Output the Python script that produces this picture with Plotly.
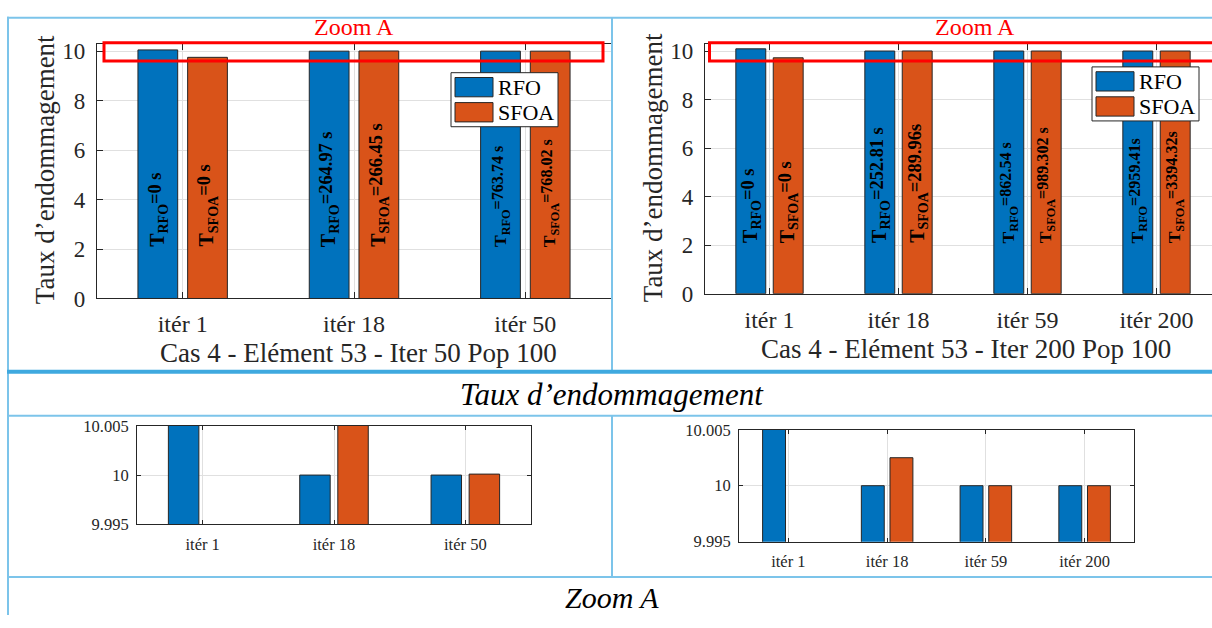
import plotly.graph_objects as go

# ---------------- data ----------------
iter_labels_50 = ['itér 1', 'itér 18', 'itér 50']
rfo_50 = [10.05, 10.0, 10.0]
sfoa_50 = [9.75, 10.007, 10.0001]
t_rfo_50 = ['0 s', '264.97 s', '763.74 s']
t_sfoa_50 = ['0 s', '266.45 s', '768.02 s']

iter_labels_200 = ['itér 1', 'itér 18', 'itér 59', 'itér 200']
rfo_200 = [10.09, 10.0, 10.0, 10.0]
sfoa_200 = [9.72, 10.0025, 10.0, 10.0]
t_rfo_200 = ['0 s', '252.81 s', '862.54 s', '2959.41s']
t_sfoa_200 = ['0 s', '289.96s', '989.302 s', '3394.32s']

series_names = ['RFO', 'SFOA']
title_50 = 'Cas 4 - Elément 53 - Iter 50 Pop 100'
title_200 = 'Cas 4 - Elément 53 - Iter 200 Pop 100'
y_title = 'Taux d’endommagement'
zoom_name = 'Zoom A'
main_yticks = [0, 2, 4, 6, 8, 10]
zoom_yticks = [9.995, 10, 10.005]
zoom_yticktext = ['9.995', '10', '10.005']

# ---------------- style ----------------
W, H = 1212, 628
BLUE = '#0072BD'
ORANGE = '#D95319'
AX = '#262626'
GRID = '#E0E0E0'
FRAME = '#7CC4EA'
FRAME_DARK = '#3FA9DF'
RED = '#FF0000'
SERIF = 'Liberation Serif'


def fx(px):
    return px / W


def fy(py):
    return 1 - py / H


fig = go.Figure()

# panel geometry in pixels: x0, x1, top, bottom
panels = {
    '': dict(cats=iter_labels_50, rfo=rfo_50, sfoa=sfoa_50, box=(97, 611, 36, 300),
             xr=[-0.5, 2.5], main=True),
    '2': dict(cats=iter_labels_200, rfo=rfo_200, sfoa=sfoa_200, box=(705, 1212, 36, 295),
              xr=[-0.5, -0.5 + (1212 - 705) / 129.0], main=True),
    '3': dict(cats=iter_labels_50, rfo=rfo_50, sfoa=sfoa_50, box=(137, 531, 432, 534),
              xr=[-0.5, 2.5], main=False),
    '4': dict(cats=iter_labels_200, rfo=rfo_200, sfoa=sfoa_200, box=(739, 1134, 436, 552),
              xr=[-0.5, 3.5], main=False),
}

for key, p in panels.items():
    for name, vals, col in zip(series_names, (p['rfo'], p['sfoa']), (BLUE, ORANGE)):
        fig.add_trace(go.Bar(
            x=p['cats'], y=vals, name=name,
            marker=dict(color=col, line=dict(color=AX, width=1)),
            xaxis='x' + key, yaxis='y' + key, showlegend=False,
        ))
    x0, x1, top, bot = p['box']
    main = p['main']
    xa = dict(
        domain=[fx(x0), fx(x1)], anchor='y' + key, type='category',
        categoryorder='array', categoryarray=p['cats'], range=p['xr'],
        ticks='inside', ticklen=6 if main else 4, tickcolor=AX,
        showline=True, linecolor=AX, linewidth=1.3 if main else 1,
        mirror='ticks', showgrid=True, gridcolor=GRID, gridwidth=1,
        tickfont=dict(family=SERIF, size=24 if main else 16.5, color=AX),
        ticklabelstandoff=4 if main else 5, zeroline=False, fixedrange=True,
    )
    ya = dict(
        domain=[fy(bot), fy(top)], anchor='x' + key,
        ticks='inside', ticklen=6 if main else 4, tickcolor=AX,
        showline=True, linecolor=AX, linewidth=1.3 if main else 1,
        mirror=False if main else 'ticks', showgrid=True, gridcolor=GRID, gridwidth=1,
        tickfont=dict(family=SERIF, size=23 if main else 16.5, color=AX),
        ticklabelstandoff=6 if main else 4, zeroline=False, fixedrange=True,
    )
    if main:
        ya.update(range=[0, 10.3], tickvals=main_yticks)
    else:
        ya.update(range=[9.995, 10.005], tickvals=zoom_yticks, ticktext=zoom_yticktext)
    fig.layout['xaxis' + key] = xa
    fig.layout['yaxis' + key] = ya

annotations = []
shapes = []

# time labels written vertically inside the main bars
label_sizes = {'': [20, 20, 17.5], '2': [20, 20, 17.5, 17.5]}
times = {'': (t_rfo_50, t_sfoa_50), '2': (t_rfo_200, t_sfoa_200)}
for key in ('', '2'):
    for j, (name, tlist) in enumerate(zip(series_names, times[key])):
        off = -0.145 if j == 0 else 0.145
        for i, t in enumerate(tlist):
            s = label_sizes[key][i]
            txt = (f"T<sub>{name}</sub>"
                   f"<span style='font-size:{s * 0.92:.1f}px;baseline-shift:3px'>={t}</span>")
            annotations.append(dict(
                x=i + off, y=2.0, xref='x' + key, yref='y' + key, text=txt,
                textangle=-90, xanchor='center', yanchor='bottom', showarrow=False,
                font=dict(family=SERIF, size=s, color='black', weight='bold'),
            ))

# axis titles of the main charts
for cx, cy, txt in ((358, 357, title_50), (966, 352, title_200)):
    annotations.append(dict(x=fx(cx), y=fy(cy), xref='paper', yref='paper', text=txt,
                            showarrow=False, xanchor='center', yanchor='middle',
                            font=dict(family=SERIF, size=27, color=AX)))
for cx, cy in ((45, 167), (653, 165)):
    annotations.append(dict(x=fx(cx), y=fy(cy), xref='paper', yref='paper', text=y_title,
                            textangle=-90, showarrow=False, xanchor='center', yanchor='middle',
                            font=dict(family=SERIF, size=27, color=AX)))

# zoom window markers
for (rx0, rx1), lx in (((104, 603), 354), ((709.5, 1216), 975)):
    shapes.append(dict(type='rect', xref='paper', yref='paper', x0=fx(rx0), x1=fx(rx1),
                       y0=fy(54), y1=fy(35), line=dict(color=RED, width=3), layer='above'))
    annotations.append(dict(x=fx(lx), y=fy(19), xref='paper', yref='paper', text=zoom_name,
                            showarrow=False, xanchor='center', yanchor='middle',
                            font=dict(family=SERIF, size=24, color=RED)))

# legends
for bx0, by0, bx1, by1, rows in ((451, 66, 558, 122, ((71, 91), (97, 117))),
                                 (1092, 60, 1199, 116, ((65, 85), (91, 111)))):
    shapes.append(dict(type='rect', xref='paper', yref='paper', x0=fx(bx0), x1=fx(bx1),
                       y0=fy(by1), y1=fy(by0), fillcolor='white',
                       line=dict(color=AX, width=1), layer='above'))
    for name, col, (ry0, ry1) in zip(series_names, (BLUE, ORANGE), rows):
        shapes.append(dict(type='rect', xref='paper', yref='paper', x0=fx(bx0 + 4),
                           x1=fx(bx0 + 42), y0=fy(ry1), y1=fy(ry0), fillcolor=col,
                           line=dict(color=AX, width=1), layer='above'))
        annotations.append(dict(x=fx(bx0 + 45), y=fy((ry0 + ry1) / 2), xref='paper',
                                yref='paper', text=name, showarrow=False, xanchor='left',
                                yanchor='middle',
                                font=dict(family=SERIF, size=22, color='black')))

# table captions
for cy, txt, size in ((400, y_title, 31), (610, zoom_name, 30)):
    annotations.append(dict(x=fx(612), y=fy(cy), xref='paper', yref='paper', text=txt,
                            showarrow=False, xanchor='center', yanchor='middle',
                            font=dict(family=SERIF, size=size, color='black', style='italic')))


# table rules
def hline(y, x0, x1, color=FRAME, width=2):
    shapes.append(dict(type='line', xref='paper', yref='paper', x0=fx(x0), x1=fx(x1),
                       y0=fy(y), y1=fy(y), line=dict(color=color, width=width), layer='above'))


def vline(x, y0, y1, color=FRAME, width=2):
    shapes.append(dict(type='line', xref='paper', yref='paper', x0=fx(x), x1=fx(x),
                       y0=fy(y0), y1=fy(y1), line=dict(color=color, width=width), layer='above'))


hline(9, 7, 1212)
hline(421.5, 8, 1212)
hline(588.5, 8, 1212)
vline(8, 8, 628)
vline(612, 9, 375)
vline(612, 421, 589)
hline(376, 7, 1212, color=FRAME_DARK, width=4)

fig.update_layout(
    width=W, height=H, autosize=False,
    margin=dict(l=0, r=0, t=0, b=0),
    paper_bgcolor='white', plot_bgcolor='white',
    barmode='group', bargap=0.42, bargroupgap=0.2,
    showlegend=False,
    annotations=annotations, shapes=shapes,
    font=dict(family=SERIF, color=AX),
)

fig.write_html('out.html')
